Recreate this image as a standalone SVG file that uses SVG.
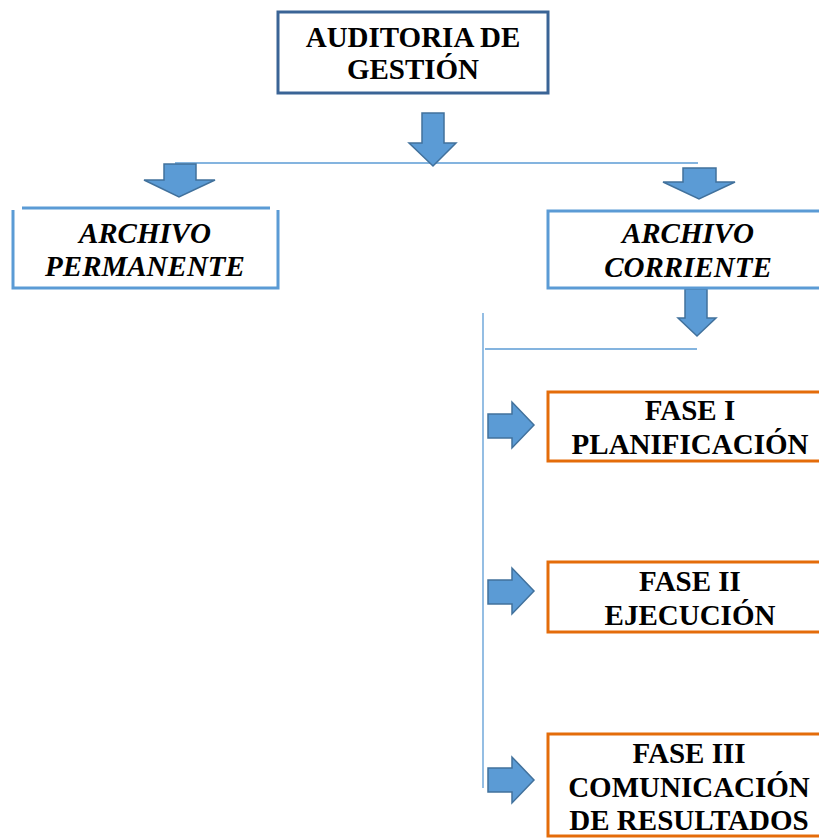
<svg xmlns="http://www.w3.org/2000/svg" width="819" height="838" viewBox="0 0 819 838">
<style>
.bold{font-family:"Liberation Serif","Times New Roman",serif;font-weight:bold;font-size:29px;fill:#000;text-anchor:middle}
.it{font-style:italic}
.arrow{fill:#5b9bd5;stroke:#41719c;stroke-width:1.5;stroke-linejoin:miter}
.line{stroke:#5b9bd5;stroke-width:1.3;fill:none}
.blue{fill:#fff;stroke:#5b9bd5;stroke-width:3}
.orange{fill:#fff;stroke:#e46c0a;stroke-width:3}
</style>
<rect width="819" height="838" fill="#fff"/>
<g id="connectors">
  <line class="line" x1="175" y1="163" x2="698" y2="163"/>
  <line class="line" x1="485" y1="349" x2="697" y2="349"/>
  <line class="line" x1="483" y1="313" x2="483" y2="788"/>
  <polygon class="arrow" points="422,113 444,113 444,143 456,143 433,166 409,143 422,143"/>
  <polygon class="arrow" points="164,164 196,164 196,180 215,180 179,197 144,180 164,180"/>
  <polygon class="arrow" points="683,168 716,168 716,182 735,182 699,199 663,182 683,182"/>
  <polygon class="arrow" points="685,289 707,289 707,318 716,318 697,336 678,318 685,318"/>
  <polygon class="arrow" points="488,414 512,414 512,402 534,425 512,448 512,438 488,438"/>
  <polygon class="arrow" points="488,580 512,580 512,568 534,591 512,614 512,604 488,604"/>
  <polygon class="arrow" points="488,768 512,768 512,757 534,780 512,803 512,792 488,792"/>
</g>
<g id="auditoria">
  <rect x="278" y="12" width="270" height="81" fill="#fff" stroke="#3a6496" stroke-width="3"/>
  <text class="bold" x="413" y="47">AUDITORIA DE</text>
  <text class="bold" x="413" y="79">GESTIÓN</text>
</g>
<g id="permanente">
  <line x1="22" y1="208" x2="270" y2="208" stroke="#5b9bd5" stroke-width="3"/>
  <path d="M13,210 V288 H278 V210" fill="none" stroke="#5b9bd5" stroke-width="3"/>
  <text class="bold it" x="145" y="243">ARCHIVO</text>
  <text class="bold it" x="145" y="276">PERMANENTE</text>
</g>
<g id="corriente">
  <rect class="blue" x="548" y="211" width="290" height="77"/>
  <text class="bold it" x="688" y="243">ARCHIVO</text>
  <text class="bold it" x="688" y="277">CORRIENTE</text>
</g>
<g id="fase1">
  <rect class="orange" x="548" y="392" width="290" height="69"/>
  <text class="bold" x="690" y="420">FASE I</text>
  <text class="bold" x="690" y="454">PLANIFICACIÓN</text>
</g>
<g id="fase2">
  <rect class="orange" x="548" y="562" width="290" height="70"/>
  <text class="bold" x="690" y="591">FASE II</text>
  <text class="bold" x="690" y="625">EJECUCIÓN</text>
</g>
<g id="fase3">
  <rect class="orange" x="548" y="734" width="290" height="102"/>
  <text class="bold" x="689" y="763">FASE III</text>
  <text class="bold" x="689" y="797">COMUNICACIÓN</text>
  <text class="bold" x="689" y="830">DE RESULTADOS</text>
</g>
</svg>
